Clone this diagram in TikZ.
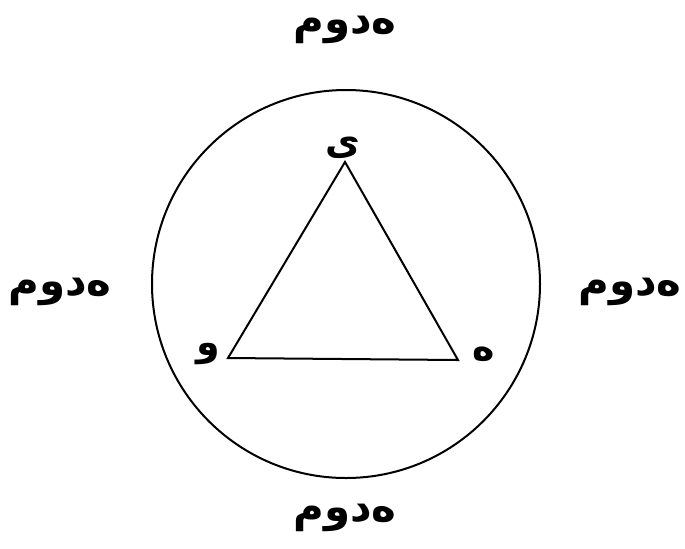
\documentclass[tikz,border=0pt]{standalone}
\usepackage{fontspec}
\usepackage{tikz}
\usetikzlibrary{positioning}
\newfontfamily\arabicfont[Script=Arabic]{DejaVu Sans}
\TeXXeTstate=1
\newcommand{\hdom}{\beginR ه^^^^200cدوم\endR}
\tikzset{
  hdlabel/.style={font=\arabicfont\bfseries\fontsize{21}{24}\selectfont, inner sep=1pt},
  hdvertex/.style={font=\arabicfont\bfseries\fontsize{19}{22}\selectfont, inner sep=1pt},
  hdline/.style={line width=1pt, draw=black}
}

\begin{document}
\begin{tikzpicture}[x=.5pt, y=-.5pt]
  \useasboundingbox (0,0) rectangle (685,548);
  % ring
  \coordinate (centre) at (346,284);
  \draw[hdline] (centre) circle (194);
  % triangle
  \coordinate (top) at (345,162);
  \coordinate (left) at (228,358);
  \coordinate (right) at (458,360);
  \draw[hdline] (top) -- (right) -- (left) -- cycle;
  \node[hdvertex] (yeh) at (343,148) {\beginR ی\endR};
  \node[hdvertex] (waw) at (208,354) {\beginR و\endR};
  \node[hdvertex] (heh) at (484,354) {\beginR ه\endR};
  % outer labels
  \node[hdlabel] (north) at (345,30) {\hdom};
  \node[hdlabel] (south) at (345,518) {\hdom};
  \node[hdlabel] (west) at (60,292) {\hdom};
  \node[hdlabel] (east) at (630,292) {\hdom};
\end{tikzpicture}
\end{document}
